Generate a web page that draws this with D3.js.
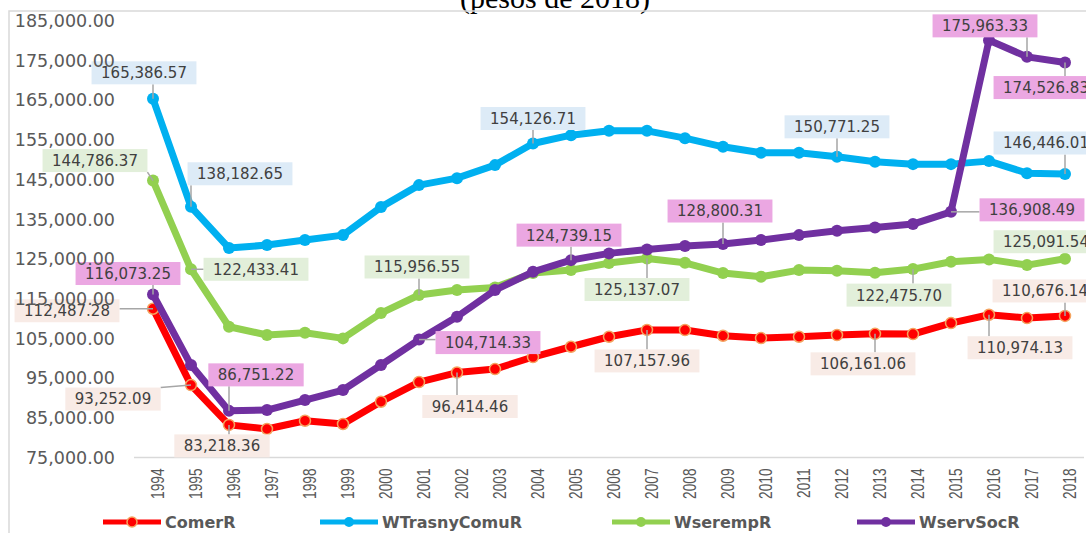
<!DOCTYPE html>
<html>
<head>
<meta charset="utf-8">
<script src="https://cdn.jsdelivr.net/npm/d3@7"></script>
<style>
	body { margin: 0; background: #fff; }
	svg { display: block; }
</style>
</head>
<body>
<script>
(function() {

	// data
	var years = ["1994", "1995", "1996", "1997", "1998", "1999", "2000", "2001", "2002", "2003", "2004", "2005", "2006",
		"2007", "2008", "2009", "2010", "2011", "2012", "2013", "2014", "2015", "2016", "2017", "2018"];

	var comerR = [112487.28, 93252.09, 83218.36, 82180, 84270, 83440, 89060, 94020, 96414.46, 97290, 100320, 102910, 105430,
		107157.96, 107120, 105680, 105100, 105430, 105860, 106161.06, 106100, 108880, 110974.13, 110140, 110676.14];

	var wTrasnyComuR = [165386.57, 138182.65, 127770, 128530, 129790, 131040, 138100, 143640, 145400, 148680, 154126.71, 156230, 157320,
		157320, 155480, 153290, 151780, 151780, 150771.25, 149510, 148930, 148930, 149690, 146660, 146446.01];

	var wserempR = [144786.37, 122433.41, 107950, 105860, 106440, 105020, 111400, 115956.55, 117190, 117870, 121470, 122230, 123990,
		125137.07, 124070, 121470, 120540, 122230, 122060, 121550, 122475.70, 124320, 124920, 123490, 125091.54];

	var wservSocR = [116073.25, 98300, 86751.22, 86960, 89480, 92000, 98300, 104714.33, 110470, 117190, 121800, 124739.15, 126440,
		127440, 128270, 128800.31, 129790, 131040, 132130, 132980, 133820, 136908.49, 180150, 175963.33, 174526.83];

	var yTicks = [75000, 85000, 95000, 105000, 115000, 125000, 135000, 145000, 155000, 165000, 175000, 185000];

	var series = [
		{ name: "ComerR", values: comerR, color: "#ff0000", box: "#f8ebe6", marker: "#f4a460" },
		{ name: "WTrasnyComuR", values: wTrasnyComuR, color: "#00b0f0", box: "#ddebf7" },
		{ name: "WserempR", values: wserempR, color: "#92d050", box: "#e2efda" },
		{ name: "WservSocR", values: wservSocR, color: "#7030a0", box: "#eba7e2" }
	];

	// where each data label sits, as an offset from its point
	var labelSpots = [
		{ s: 0, year: "1994", dx: -86, dy: 2 },
		{ s: 0, year: "1995", dx: -78, dy: 14 },
		{ s: 0, year: "1996", dx: -7, dy: 21 },
		{ s: 0, year: "2002", dx: 13, dy: 34 },
		{ s: 0, year: "2007", dx: 0, dy: 31 },
		{ s: 0, year: "2013", dx: -12, dy: 30 },
		{ s: 0, year: "2016", dx: 31, dy: 33 },
		{ s: 0, year: "2018", dx: -20, dy: -25 },
		{ s: 1, year: "1994", dx: -9, dy: -26 },
		{ s: 1, year: "1995", dx: 49, dy: -33 },
		{ s: 1, year: "2004", dx: 0, dy: -25 },
		{ s: 1, year: "2012", dx: 0, dy: -30 },
		{ s: 1, year: "2018", dx: -19, dy: -31 },
		{ s: 2, year: "1994", dx: -58, dy: -20 },
		{ s: 2, year: "1995", dx: 65, dy: 0 },
		{ s: 2, year: "2001", dx: -2, dy: -28 },
		{ s: 2, year: "2007", dx: -10, dy: 31 },
		{ s: 2, year: "2014", dx: -14, dy: 26 },
		{ s: 2, year: "2018", dx: -19, dy: -17 },
		{ s: 3, year: "1994", dx: -25, dy: -21 },
		{ s: 3, year: "1996", dx: 27, dy: -36 },
		{ s: 3, year: "2001", dx: 69, dy: 3 },
		{ s: 3, year: "2005", dx: -2, dy: -25 },
		{ s: 3, year: "2009", dx: -3, dy: -33 },
		{ s: 3, year: "2015", dx: 81, dy: -2 },
		{ s: 3, year: "2017", dx: -42, dy: -31 },
		{ s: 3, year: "2018", dx: -19, dy: 25 }
	];


	var width = 1086;
	var height = 533;

	var svg = d3.select("body")
		.append("svg")
		.attr("width", width)
		.attr("height", height);

	svg.append("rect")
		.attr("width", width)
		.attr("height", height)
		.attr("fill", "#fff");

	// the title is cut off at the top in the original picture
	svg.append("text")
		.attr("x", 555)
		.attr("y", 8)
		.attr("text-anchor", "middle")
		.style("font-family", "'Liberation Serif', serif")
		.style("font-size", "30px")
		.attr("fill", "#000")
		.text("(pesos de 2018)");

	// chart frame
	svg.append("path")
		.attr("d", "M9,533V11H1086")
		.attr("fill", "none")
		.attr("stroke", "#d9d9d9")
		.attr("stroke-width", 1.5);


	// scales
	var x = d3.scalePoint()
		.domain(years)
		.range([134, 1084])
		.padding(0.5);

	var y = d3.scaleLinear()
		.domain([75000, 185000])
		.range([457.5, 21]);


	// x axis line and rotated year labels
	var xAxis = d3.axisBottom(x)
		.tickSize(0)
		.tickSizeOuter(0);

	var gx = svg.append("g")
		.attr("transform", "translate(0,457.5)")
		.call(xAxis);
	gx.select(".domain")
		.attr("d", "M" + x.range()[0] + ",0H" + x.range()[1])
		.attr("stroke", "#d9d9d9")
		.attr("stroke-width", 1.5);
	gx.selectAll(".tick text")
		.attr("y", null)
		.attr("dy", "0.35em")
		.attr("text-anchor", "end")
		.attr("transform", "translate(4,11) rotate(-90) scale(0.72,1)")
		.style("font-family", "'Liberation Sans', sans-serif")
		.style("font-size", "19px")
		.attr("fill", "#595959");


	// lines and markers
	var line = d3.line()
		.x(function(d, i) { return x(years[i]); })
		.y(function(d) { return y(d); });

	series.forEach(function(s) {
		var g = svg.append("g").attr("class", "series");

		g.append("path")
			.datum(s.values)
			.attr("d", line)
			.attr("fill", "none")
			.attr("stroke", s.color)
			.attr("stroke-width", 7)
			.attr("stroke-linejoin", "round");

		g.selectAll("circle")
			.data(s.values)
			.enter()
			.append("circle")
			.attr("cx", function(d, i) { return x(years[i]); })
			.attr("cy", function(d) { return y(d); })
			.attr("r", s.marker ? 5.5 : 6)
			.attr("fill", s.color)
			.attr("stroke", s.marker || "none")
			.attr("stroke-width", 1.5);
	});


	// data labels with leader lines
	var fmt = d3.format(",.2f");
	var gl = svg.append("g").attr("class", "labels");

	labelSpots.forEach(function(l) {
		var s = series[l.s];
		var i = years.indexOf(l.year);
		var px = x(l.year);
		var py = y(s.values[i]);
		var cx = px + l.dx;
		var cy = py + l.dy;

		var t = gl.append("text")
			.attr("x", cx)
			.attr("y", cy)
			.attr("dy", "0.36em")
			.attr("text-anchor", "middle")
			.style("font-family", "'DejaVu Sans', sans-serif")
			.style("font-size", "15px")
			.attr("fill", "#404040")
			.text(fmt(s.values[i]));

		var w = t.node().getComputedTextLength() + 19;
		var h = 23;

		// nearest point of the box to the data point
		var nx = Math.max(cx - w / 2, Math.min(px, cx + w / 2));
		var ny = Math.max(cy - h / 2, Math.min(py, cy + h / 2));
		if (Math.hypot(nx - px, ny - py) > 9) {
			gl.insert("line", "text")
				.attr("x1", px)
				.attr("y1", py)
				.attr("x2", nx)
				.attr("y2", ny)
				.attr("stroke", "#a6a6a6")
				.attr("stroke-width", 1.5);
		}

		gl.insert("rect", "text")
			.attr("x", cx - w / 2)
			.attr("y", cy - h / 2)
			.attr("width", w)
			.attr("height", h)
			.attr("fill", s.box);
	});


	// y axis, labels only (drawn last so they sit over the label boxes)
	var yAxis = d3.axisLeft(y)
		.tickValues(yTicks)
		.tickSize(0)
		.tickPadding(0)
		.tickFormat(d3.format(",.2f"));

	var gy = svg.append("g")
		.attr("transform", "translate(115,0)")
		.call(yAxis);
	gy.select(".domain").remove();
	gy.selectAll("text")
		.style("font-family", "'DejaVu Sans', sans-serif")
		.style("font-size", "17.5px")
		.attr("fill", "#595959");


	// legend
	var legendX = [103, 320, 612, 857];
	var legend = svg.append("g").attr("class", "legend");

	series.forEach(function(s, i) {
		var lx = legendX[i];
		legend.append("line")
			.attr("x1", lx)
			.attr("x2", lx + 58)
			.attr("y1", 522)
			.attr("y2", 522)
			.attr("stroke", s.color)
			.attr("stroke-width", 5);
		legend.append("circle")
			.attr("cx", lx + 29)
			.attr("cy", 522)
			.attr("r", 5)
			.attr("fill", s.color)
			.attr("stroke", s.marker || "none")
			.attr("stroke-width", 1.5);
		legend.append("text")
			.attr("x", lx + 62)
			.attr("y", 522)
			.attr("dy", "0.36em")
			.style("font-family", "'DejaVu Sans', sans-serif")
			.style("font-size", "16px")
			.style("font-weight", "bold")
			.attr("fill", "#595959")
			.text(s.name);
	});

})();
</script>
</body>
</html>
